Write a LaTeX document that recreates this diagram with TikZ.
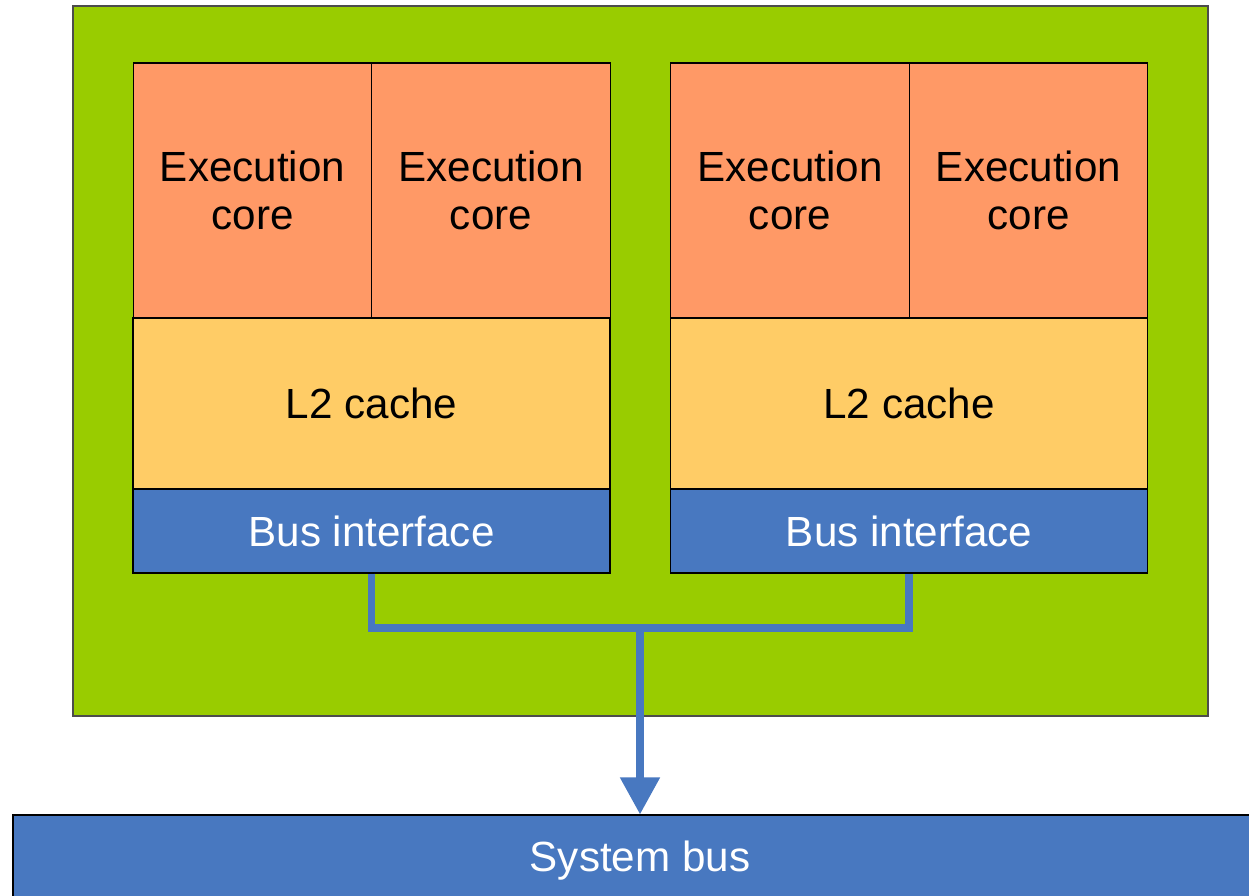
\documentclass[tikz,border=0pt]{standalone}
\usepackage{fontspec}
\setmainfont{Liberation Sans}
\usetikzlibrary{arrows.meta}
\definecolor{diegreen}{HTML}{99CC00}
\definecolor{coreorange}{HTML}{FF9966}
\definecolor{cacheyellow}{HTML}{FFCC66}
\definecolor{busblue}{HTML}{4878C0}
\begin{document}
\begin{tikzpicture}[every node/.style={rectangle,draw=black,line width=0.6pt,inner sep=0pt,align=center,font=\fontsize{24}{27}\selectfont},
    core/.style={fill=coreorange,minimum width=4.77cm,minimum height=5.1cm},
    cache/.style={fill=cacheyellow,minimum width=9.54cm,minimum height=3.42cm},
    busif/.style={fill=busblue,text=white,minimum width=9.54cm,minimum height=1.68cm},
    wire/.style={draw=busblue,line width=4.5pt}]
    \useasboundingbox (0,0) rectangle (24.98,-17.9);

    %––––– die –––––
    \node (die) at (12.81,-7.22) [fill=diegreen,draw=black!70,line width=1pt,minimum width=22.7cm,minimum height=14.2cm] {};

    %––––– left processor –––––
    \node (c1) at (5.05,-3.81) [core] {Execution\\core};
    \node (c2) at (9.82,-3.81) [core] {Execution\\core};
    \node (l2a) at (7.43,-8.07) [cache] {L2 cache};
    \node (bia) at (7.43,-10.62) [busif] {Bus interface};

    %––––– right processor –––––
    \node (c3) at (15.8,-3.81) [core] {Execution\\core};
    \node (c4) at (20.57,-3.81) [core] {Execution\\core};
    \node (l2b) at (18.18,-8.07) [cache] {L2 cache};
    \node (bib) at (18.18,-10.62) [busif] {Bus interface};

    %––––– system bus –––––
    \node (sys) at (12.8,-17.22) [busif,minimum width=25.08cm,minimum height=1.84cm] {System bus};

    %––––– wires –––––
    \coordinate (j) at (12.8,-12.56);
    \draw[wire] (bia.south) |- (j) -| (bib.south);
    \draw[wire,-{Triangle[width=0.76cm,length=0.74cm]}] (j) -- (sys.north);
  \end{tikzpicture}
\end{document}
